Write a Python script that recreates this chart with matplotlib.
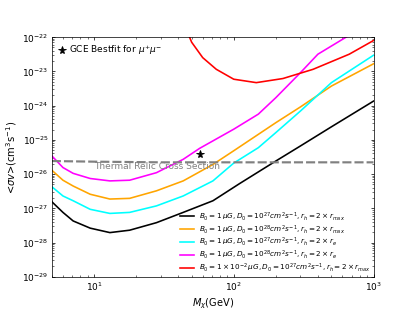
import matplotlib
matplotlib.use('Agg')
import matplotlib.pyplot as plt
import numpy as np

# masses (GeV) and log10 <sigma v>
m_black = [5, 6, 7.1, 9.4, 13, 18, 28, 43.5, 71, 110, 200, 300, 500, 1000]
y_black = [-26.81, -27.12, -27.37, -27.58, -27.71, -27.64, -27.42, -27.12, -26.78, -26.28,
           -25.62, -25.18, -24.62, -23.87]

m_orange = [5, 6, 7.1, 9.4, 13, 18, 28, 43.5, 71, 100, 200, 300, 500, 1000]
y_orange = [-25.89, -26.18, -26.35, -26.59, -26.73, -26.71, -26.49, -26.20, -25.72, -25.32,
            -24.50, -24.04, -23.43, -22.78]

m_cyan = [5, 6, 7.1, 9.4, 13, 18, 28, 43.5, 71, 100, 150, 200, 300, 500, 1000]
y_cyan = [-26.37, -26.64, -26.78, -27.03, -27.15, -27.12, -26.93, -26.64, -26.20, -25.68,
          -25.23, -24.79, -24.16, -23.33, -22.53]

m_magenta = [5, 6, 7.1, 9.4, 13, 18, 28, 43.5, 57, 100, 150, 200, 300, 400, 700]
y_magenta = [-25.47, -25.81, -25.98, -26.13, -26.20, -26.18, -25.96, -25.57, -25.25, -24.69,
             -24.25, -23.77, -23.04, -22.50, -21.90]

m_red = [45, 50, 60, 75, 100, 145, 225, 370, 670, 1000]
y_red = [-21.70, -22.15, -22.60, -22.94, -23.23, -23.33, -23.21, -22.94, -22.50, -22.10]

m_relic = [5, 10, 30, 100, 1000]
sv_relic = [2.4e-26, 2.3e-26, 2.2e-26, 2.2e-26, 2.2e-26]

m_star = [57]
sv_star = [3.8e-26]

labels = [
    r'$B_0=1\,\mu G, D_0=10^{27}cm^2s^{-1}, r_h=2\times r_{max}$',
    r'$B_0=1\,\mu G, D_0=10^{28}cm^2s^{-1}, r_h=2\times r_{max}$',
    r'$B_0=1\,\mu G, D_0=10^{27}cm^2s^{-1}, r_h=2\times r_{e}$',
    r'$B_0=1\,\mu G, D_0=10^{28}cm^2s^{-1}, r_h=2\times r_{e}$',
    r'$B_0=1\times10^{-2}\,\mu G, D_0=10^{27}cm^2s^{-1}, r_h=2\times r_{max}$',
]

fig, ax = plt.subplots(figsize=(6.4, 4.8), dpi=415/6.4)

curves = [(m_black, y_black, 'black'), (m_orange, y_orange, 'orange'),
          (m_cyan, y_cyan, 'cyan'), (m_magenta, y_magenta, 'magenta'),
          (m_red, y_red, 'red')]
handles = []
for (m, y, c), lab in zip(curves, labels):
    h, = ax.plot(m, 10**np.array(y), c=c, lw=1.8, label=lab)
    handles.append(h)

ax.plot(m_relic, sv_relic, ls='--', c='grey', lw=2.4, dashes=(4.2, 1.4))
ax.text(10, 1.45e-26, 'Thermal Relic Cross Section', color='grey', fontsize=10)

star, = ax.plot(m_star, sv_star, '*', c='black', ms=9, ls='none')

ax.set_xscale('log')
ax.set_yscale('log')
ax.set_xlim(5, 1000)
ax.set_ylim(1e-29, 1e-22)
ax.set_xlabel(r'$M_\chi$(GeV)', fontsize=11)
ax.set_ylabel(r'<$\sigma v$>(cm$^3$s$^{-1}$)', fontsize=11)
ax.tick_params(which='both', direction='in', top=True, right=True)

leg1 = ax.legend(handles=handles, loc='lower right', frameon=False, fontsize=8,
                 handlelength=2.0, labelspacing=0.05, borderaxespad=0.1,
                 borderpad=0.3, handletextpad=0.6)
ax.add_artist(leg1)
ax.legend([star], [r'GCE Bestfit for $\mu^{+}\mu^{-}$'], loc='upper left',
          frameon=False, fontsize=10, handlelength=0.8, handletextpad=0.4,
          borderaxespad=0.3)

plt.savefig('out.png')
